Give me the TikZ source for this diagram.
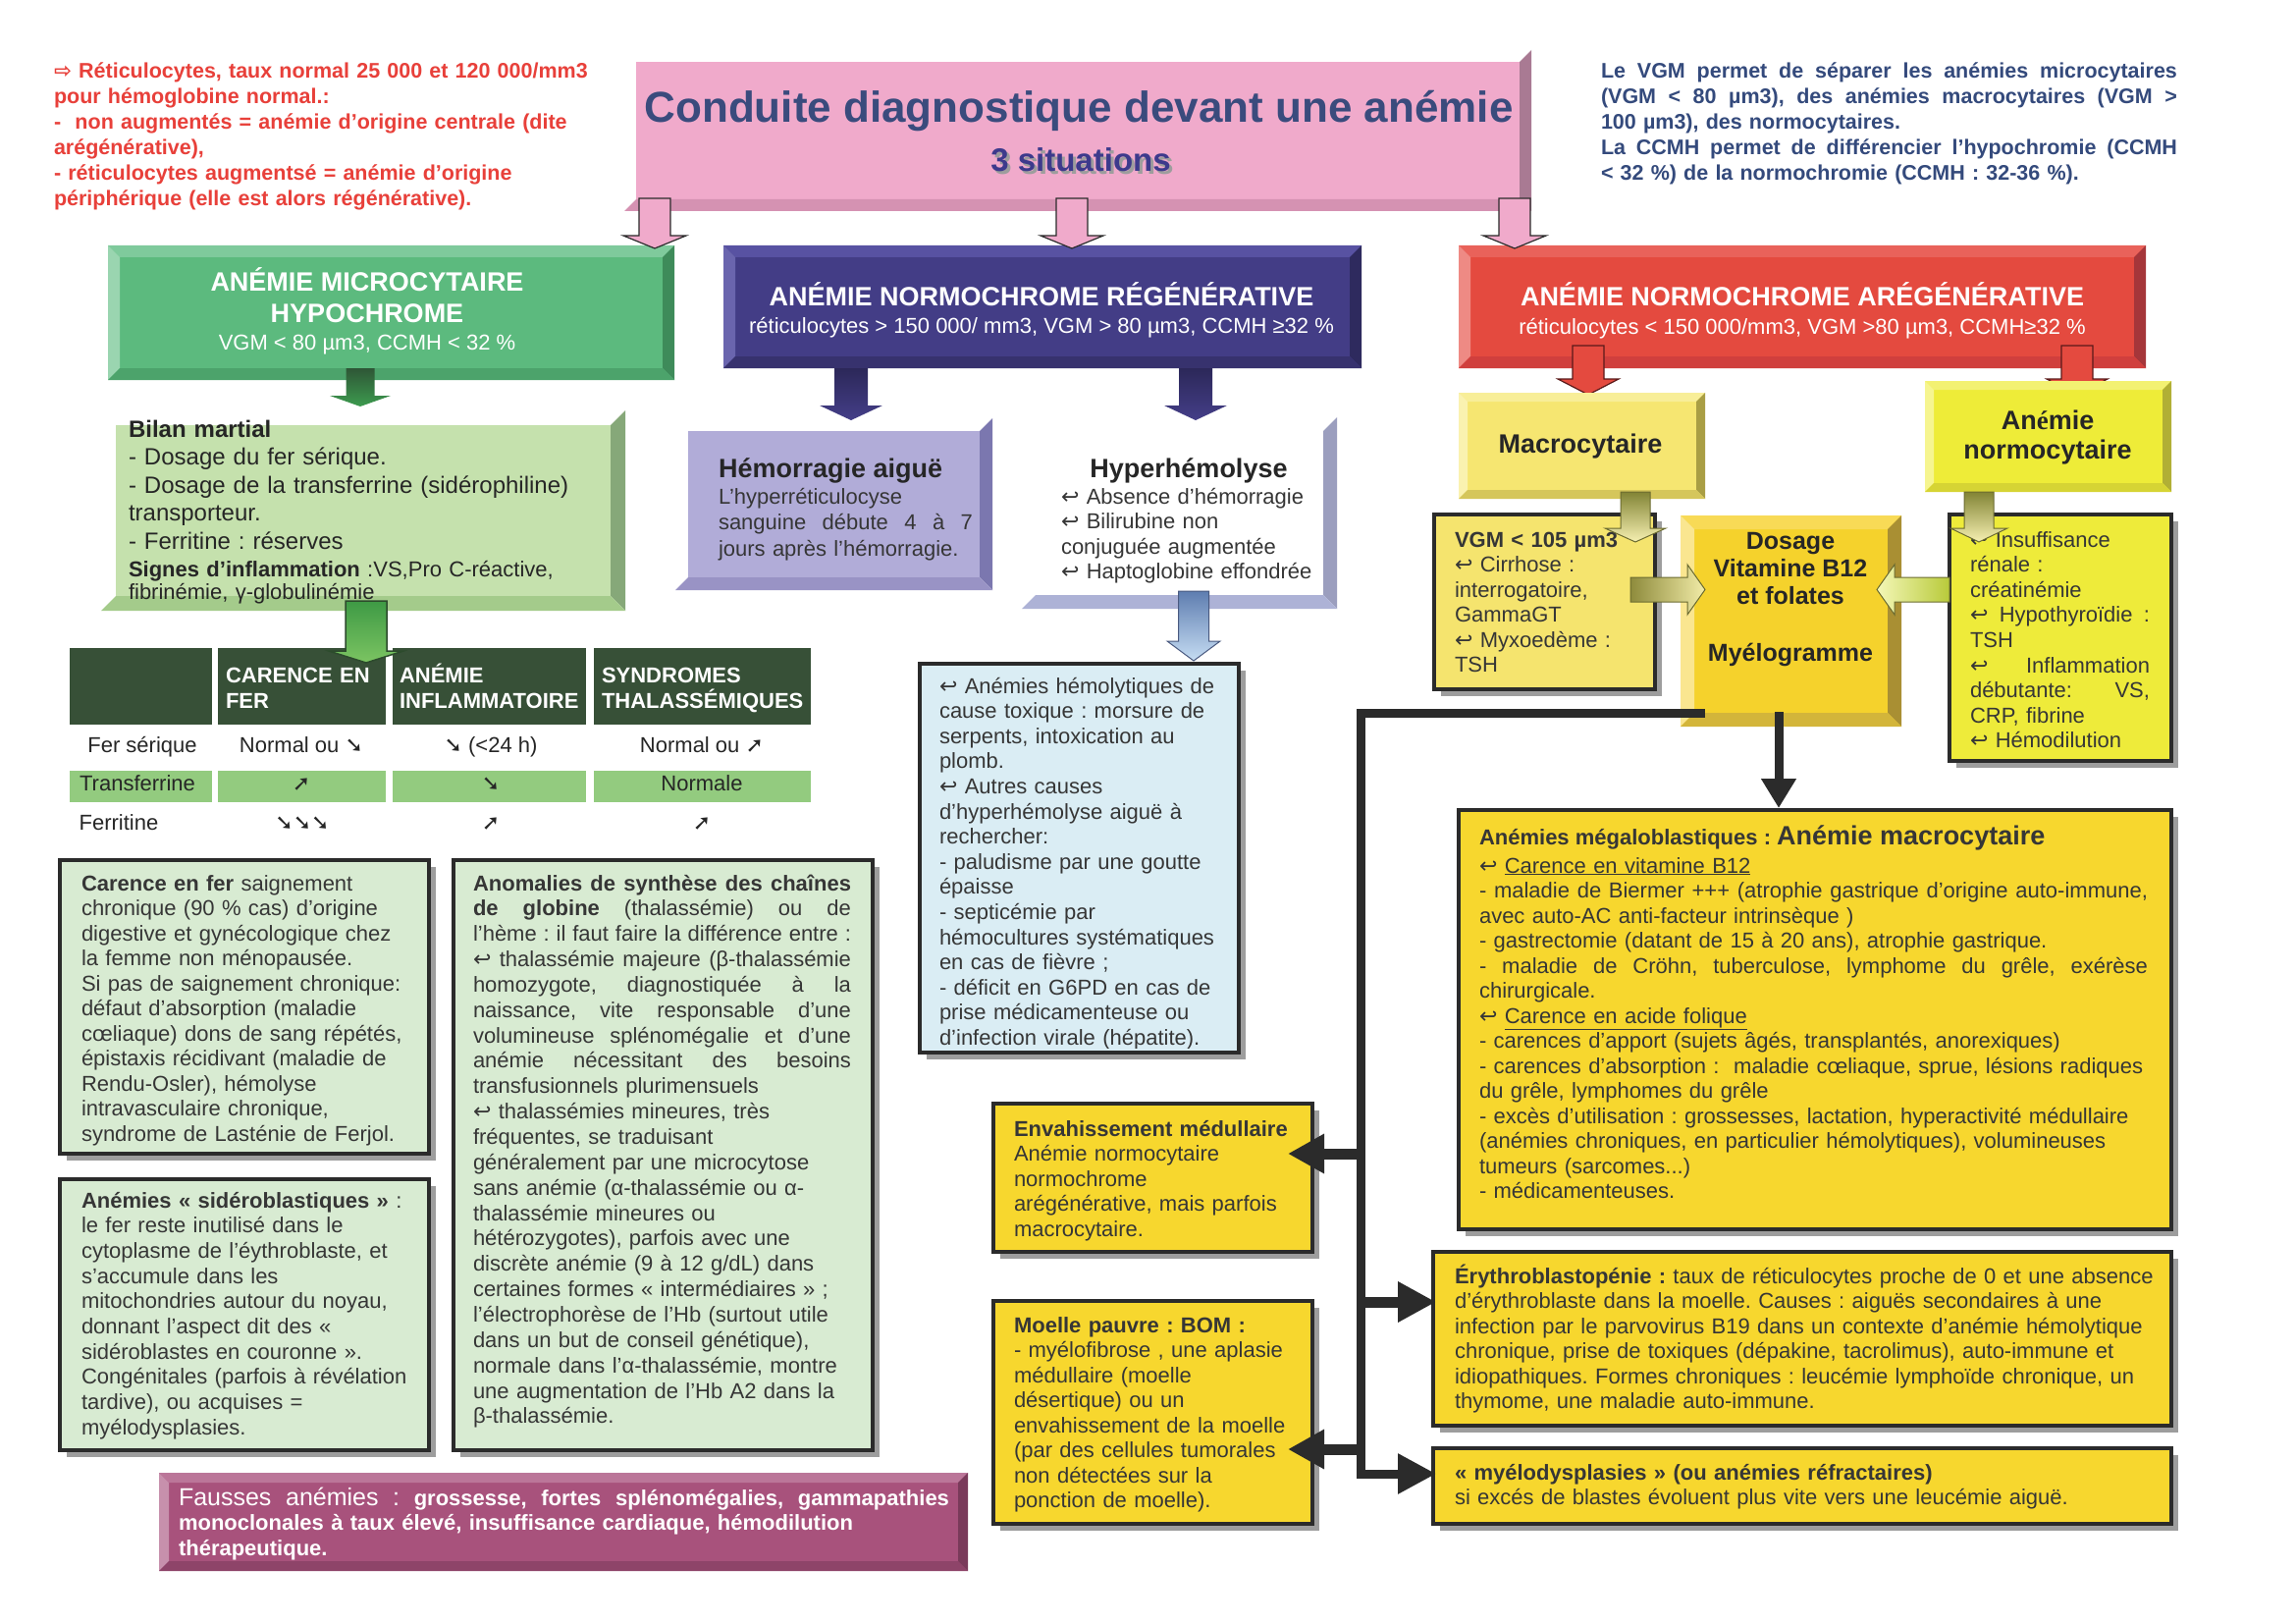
\documentclass[tikz,border=0pt]{standalone}
\usepackage{fontspec}
\setmainfont{Liberation Sans}
\newfontfamily\symf{DejaVu Sans}
\newfontfamily\serf{Liberation Serif}
\usetikzlibrary{arrows.meta}
\frenchspacing
\newcommand\fsz[2]{\fontsize{#1}{#2}\selectfont}
\newcommand\JL[1]{\leavevmode\hbox to\linewidth{\spaceskip=0.278em plus 1fil\xspaceskip=0.278em plus 1fil\relax #1}}
\newcommand\bul{{\symf ↩}}
\newcommand\dn{{\symf ➘}}
\newcommand\up{{\symf ➚}}
\definecolor{txt}{HTML}{363636}
\definecolor{txd}{HTML}{262626}
\definecolor{bord}{HTML}{2B2B2B}
\definecolor{shad}{HTML}{9D9D9D}
\definecolor{pkF}{HTML}{F0AACB}\definecolor{pkR}{HTML}{A97A93}\definecolor{pkB}{HTML}{D592B2}
\definecolor{grF}{HTML}{5CBA7E}\definecolor{grT}{HTML}{7FCA9C}\definecolor{grL}{HTML}{9AD5B0}\definecolor{grR}{HTML}{3E8B5A}\definecolor{grB}{HTML}{4CA36B}
\definecolor{nvF}{HTML}{433D86}\definecolor{nvT}{HTML}{5852A2}\definecolor{nvL}{HTML}{6A65AE}\definecolor{nvR}{HTML}{2E2A5E}\definecolor{nvB}{HTML}{37326E}
\definecolor{rdF}{HTML}{E44A3F}\definecolor{rdT}{HTML}{E9625A}\definecolor{rdL}{HTML}{EE8A84}\definecolor{rdR}{HTML}{A5363A}\definecolor{rdB}{HTML}{D03F3D}
\definecolor{biF}{HTML}{C5E1AD}\definecolor{biR}{HTML}{86A879}\definecolor{biB}{HTML}{A4CB8B}
\definecolor{hmF}{HTML}{B1ACD8}\definecolor{hmR}{HTML}{7B77AF}\definecolor{hmB}{HTML}{9993C5}
\definecolor{hyF}{HTML}{FFFFFF}\definecolor{hyR}{HTML}{9B9EBE}\definecolor{hyB}{HTML}{ADB2D6}
\definecolor{mcF}{HTML}{F6E671}\definecolor{mcT}{HTML}{F8EE98}\definecolor{mcL}{HTML}{FAF2B0}\definecolor{mcR}{HTML}{A99E44}\definecolor{mcB}{HTML}{D5C65B}
\definecolor{noF}{HTML}{EEEC38}\definecolor{noT}{HTML}{F3F172}\definecolor{noL}{HTML}{F6F590}\definecolor{noR}{HTML}{B1AF35}\definecolor{noB}{HTML}{D6D434}
\definecolor{doF}{HTML}{F5D22C}\definecolor{doT}{HTML}{F8DA56}\definecolor{doL}{HTML}{FAE690}\definecolor{doR}{HTML}{A98F33}\definecolor{doB}{HTML}{D3B53A}
\definecolor{faF}{HTML}{A8527C}\definecolor{faT}{HTML}{BB7699}\definecolor{faL}{HTML}{C790AC}\definecolor{faR}{HTML}{7A3A5A}\definecolor{faB}{HTML}{8E4469}
\definecolor{thdr}{HTML}{375037}\definecolor{tgreen}{HTML}{93CB7F}
\definecolor{lgreen}{HTML}{D8EBD2}\definecolor{lblue}{HTML}{DAEDF4}
\definecolor{gold}{HTML}{F7D72E}\definecolor{vgmY}{HTML}{F5E46E}\definecolor{lemon}{HTML}{EEEB3A}
\definecolor{rednote}{HTML}{E8403A}\definecolor{bluenote}{HTML}{344A7C}
\definecolor{titleblue}{HTML}{3A4B7D}\definecolor{sitblue}{HTML}{3D3A8C}
\definecolor{gA1}{HTML}{2E5636}\definecolor{gA2}{HTML}{3D9B4F}
\definecolor{gB1}{HTML}{3E9A45}\definecolor{gB2}{HTML}{7CC462}\definecolor{gBd}{HTML}{2C4B2C}
\definecolor{nA1}{HTML}{2C2859}\definecolor{nA2}{HTML}{443E88}
\definecolor{rAd}{HTML}{5A1A1A}
\definecolor{ol1}{HTML}{828435}\definecolor{ol2}{HTML}{F6F0B2}\definecolor{old}{HTML}{6B6B30}
\definecolor{olH}{HTML}{8E8B3C}\definecolor{olP}{HTML}{F2ECA8}
\definecolor{yl1}{HTML}{F4F7B8}\definecolor{yl2}{HTML}{B8CA3A}
\definecolor{bl1}{HTML}{5E7DB0}\definecolor{bl2}{HTML}{C6DDF3}\definecolor{bld}{HTML}{4A5A80}
% full bevel box: x1 y1 x2 y2 d colourprefix
\newcommand\bevelbox[6]{%
 \fill[#6F] (#1,#2) rectangle (#3,#4);
 \fill[#6T] (#1,#2) -- (#3,#2) -- ({#3-#5},{#2+#5}) -- ({#1+#5},{#2+#5}) -- cycle;
 \fill[#6L] (#1,#2) -- ({#1+#5},{#2+#5}) -- ({#1+#5},{#4-#5}) -- (#1,#4) -- cycle;
 \fill[#6R] (#3,#2) -- ({#3-#5},{#2+#5}) -- ({#3-#5},{#4-#5}) -- (#3,#4) -- cycle;
 \fill[#6B] (#1,#4) -- ({#1+#5},{#4-#5}) -- ({#3-#5},{#4-#5}) -- (#3,#4) -- cycle;}
% extruded box: face + right band + bottom band
\newcommand\cubebox[6]{%
 \fill[#6F] (#1,#2) rectangle (#3,#4);
 \fill[#6R] (#3,#2) -- ({#3+#5},{#2-#5}) -- ({#3+#5},{#4+#5}) -- (#3,#4) -- cycle;
 \fill[#6B] (#1,#4) -- (#3,#4) -- ({#3+#5},{#4+#5}) -- ({#1-#5},{#4+#5}) -- cycle;}
\newcommand\area[5]{\node[area,minimum width={#4-#2},minimum height={#5-#3}] (#1) at (#2,#3) {};}
\newcommand\framebx[6]{\node[boxframe,fill=#6,minimum width={#4-#2},minimum height={#5-#3}] (#1) at (#2,#3) {};}
% block arrows: down (cx ytop ytip shafthalf headhalf headlen style)
\newcommand\dblock[7]{\path[#7] ({#1-#4},#2) -- ({#1+#4},#2) -- ({#1+#4},{#3-#6}) -- ({#1+#5},{#3-#6}) -- (#1,#3) -- ({#1-#5},{#3-#6}) -- ({#1-#4},{#3-#6}) -- cycle;}
% right (cy xstart xtip shafthalf headhalf headlen style)
\newcommand\rblock[7]{\path[#7] (#2,{#1-#4}) -- ({#3-#6},{#1-#4}) -- ({#3-#6},{#1-#5}) -- (#3,#1) -- ({#3-#6},{#1+#5}) -- ({#3-#6},{#1+#4}) -- (#2,{#1+#4}) -- cycle;}
\newcommand\lblock[7]{\path[#7] (#2,{#1-#4}) -- ({#3+#6},{#1-#4}) -- ({#3+#6},{#1-#5}) -- (#3,#1) -- ({#3+#6},{#1+#5}) -- ({#3+#6},{#1+#4}) -- (#2,{#1+#4}) -- cycle;}
\begin{document}
\begin{tikzpicture}[x=1pt,y=-1pt,
  tx/.style={anchor=base west,inner sep=0pt,outer sep=0pt,align=left,text=txt,font=\fsz{22}{25.5}},
  tl/.style={anchor=base west,inner sep=0pt,outer sep=0pt,text=txt,font=\fsz{22}{25.5}},
  ctx/.style={anchor=base,inner sep=0pt,outer sep=0pt},
  area/.style={inner sep=0pt,outer sep=0pt,anchor=north west},
  boxframe/.style={area,draw=bord,line width=3.5pt,preaction={fill=shad,transform canvas={xshift=7pt,yshift=-7pt}}},
  cell/.style={area,minimum height=78},
  gcell/.style={area,fill=tgreen,minimum height=32},
  pinkarr/.style={fill=pkF,draw=bord,line width=1.2pt},
  greenarrA/.style={top color=gA1,bottom color=gA2},
  greenarrB/.style={top color=gB1,bottom color=gB2,draw=gBd,line width=1.5pt},
  navyarr/.style={top color=nA1,bottom color=nA2},
  redarr/.style={fill=rdF,draw=rAd,line width=1.2pt},
  olivearr/.style={top color=ol1,bottom color=ol2,draw=old,line width=1pt},
  olivearrH/.style={left color=olH,right color=olP,draw=old,line width=1pt},
  yelarrH/.style={left color=yl1,right color=yl2,draw=old,line width=1pt},
  bluearr/.style={top color=bl1,bottom color=bl2,draw=bld,line width=1pt},
  blk/.style={draw=bord,line width=9pt,line join=miter},
  tcell/.style={ctx,text=txd,font=\fsz{22}{26}}]
\useasboundingbox[fill=white] (0,0) rectangle (2339,1653);

% ---------- notes ----------
\node[tx,text width=620,text=rednote,font=\bfseries\fsz{21.5}{26}] (rednoteT) at (55,80)
 {{\symf ⇨} Réticulocytes, taux normal 25 000 et 120 000/mm3\\
  pour hémoglobine normal.:\\
  -~~non augmentés = anémie d’origine centrale (dite\\
  arégénérative),\\
  - réticulocytes augmentsé = anémie d’origine\\
  périphérique (elle est alors régénérative).};
\node[tx,text width=587,text=bluenote,font=\bfseries\fsz{21.5}{26}] (bluenoteT) at (1631,80)
 {\JL{Le VGM permet de séparer les anémies microcytaires}\\
  \JL{(VGM < 80 µm3), des anémies macrocytaires (VGM >}\\
  100 µm3), des normocytaires.\\
  \JL{La CCMH permet de différencier l’hypochromie (CCMH}\\
  < 32 \%) de la normochromie (CCMH : 32-36 \%).};

% ---------- title ----------
\cubebox{648}{63}{1548}{203}{12}{pk}
\area{title}{648}{63}{1548}{203}
\node[ctx,text=titleblue,font=\bfseries\fsz{44}{50}] (titleT) at (1099,125) {Conduite diagnostique devant une anémie};
\node[ctx,text=shad,font=\bfseries\fsz{33}{36}] (sitS) at (1104,178) {3 situations};
\node[ctx,text=sitblue,font=\bfseries\fsz{33}{36}] (sitT) at (1101,175) {3 situations};

% ---------- three situations ----------
\bevelbox{110}{250}{687}{387}{12}{gr}
\area{green}{110}{250}{687}{387}
\node[ctx,text=white,font=\bfseries\fsz{27}{30}] (grT1) at (374,296) {ANÉMIE MICROCYTAIRE};
\node[ctx,text=white,font=\bfseries\fsz{27}{30}] (grT2) at (374,328) {HYPOCHROME};
\node[ctx,text=white,font=\fsz{22}{26}] (grT3) at (374,356) {VGM < 80 µm3, CCMH < 32 \%};

\bevelbox{737}{250}{1387}{375}{12}{nv}
\area{navy}{737}{250}{1387}{375}
\node[ctx,text=white,font=\bfseries\fsz{27}{30}] (nvT1) at (1061,311) {ANÉMIE NORMOCHROME RÉGÉNÉRATIVE};
\node[ctx,text=white,font=\fsz{22}{26}] (nvT2) at (1061,339) {réticulocytes > 150 000/ mm3, VGM > 80 µm3, CCMH ≥32 \%};

\bevelbox{1486}{250}{2186}{375}{12}{rd}
\area{red}{1486}{250}{2186}{375}
\node[ctx,text=white,font=\bfseries\fsz{27}{30}] (rdT1) at (1836,311) {ANÉMIE NORMOCHROME ARÉGÉNÉRATIVE};
\node[ctx,text=white,font=\fsz{22}{26}] (rdT2) at (1836,340) {réticulocytes < 150 000/mm3, VGM >80 µm3, CCMH≥32 \%};

\dblock{667}{202}{253}{16}{32}{13}{pinkarr}
\dblock{1092}{202}{253}{16}{32}{13}{pinkarr}
\dblock{1543}{202}{253}{16}{32}{13}{pinkarr}

% ---------- microcytaire branch ----------
\dblock{367}{375}{414}{14.5}{31}{11}{greenarrA}
\cubebox{118}{433}{622}{607}{15}{bi}
\area{bilan}{118}{433}{622}{607}
\node[tx,text width=490,text=txd,font=\fsz{24}{28.5}] (biT) at (131,445)
 {\textbf{Bilan martial}\\
  - Dosage du fer sérique.\\
  - Dosage de la transferrine (sidérophiline)\\
  transporteur.\\
  - Ferritine : réserves};
\node[tx,text width=490,text=txd,font=\fsz{22}{23}] (biT2) at (131,587)
 {\textbf{Signes d’inflammation} :VS,Pro C-réactive,\\
  fibrinémie, γ-globulinémie};

% table
\node[cell,fill=thdr,minimum width=145] (h0) at (71,660) {};
\node[cell,fill=thdr,minimum width=171] (h1) at (222,660) {};
\node[cell,fill=thdr,minimum width=197] (h2) at (400,660) {};
\node[cell,fill=thdr,minimum width=221] (h3) at (605,660) {};
\node[gcell,minimum width=145] (g0) at (71,785) {};
\node[gcell,minimum width=171] (g1) at (222,785) {};
\node[gcell,minimum width=197] (g2) at (400,785) {};
\node[gcell,minimum width=221] (g3) at (605,785) {};
\node[tx,text width=165,text=white,font=\bfseries\fsz{22}{26}] (h1T) at (230,695) {CARENCE EN\\FER};
\node[tx,text width=192,text=white,font=\bfseries\fsz{22}{26}] (h2T) at (407,695) {ANÉMIE\\INFLAMMATOIRE};
\node[tx,text width=215,text=white,font=\bfseries\fsz{22}{26}] (h3T) at (613,695) {SYNDROMES\\THALASSÉMIQUES};
\node[tcell] (r1a) at (145,766) {Fer sérique};
\node[tcell] (r1b) at (307,766) {Normal ou \dn};
\node[tcell] (r1c) at (500,766) {\dn\ (<24 h)};
\node[tcell] (r1d) at (715,766) {Normal ou \up};
\node[tcell] (r2a) at (140,805) {Transferrine};
\node[tcell] (r2b) at (307,805) {\up};
\node[tcell] (r2c) at (500,805) {\dn};
\node[tcell] (r2d) at (715,805) {Normale};
\node[tcell] (r3a) at (121,845) {Ferritine};
\node[tcell] (r3b) at (308,845) {\dn\dn\dn};
\node[tcell] (r3c) at (500,845) {\up};
\node[tcell] (r3d) at (715,845) {\up};
\dblock{373}{612}{675}{21}{38}{12}{greenarrB}

% lower left boxes
\framebx{carence}{61}{876}{437}{1175}{lgreen}
\begin{scope}
\clip (50,870) rectangle (450,1168);
\node[tx,text width=350] (carT) at (83,907)
 {\textbf{Carence en fer} saignement\\
  chronique (90 \% cas) d’origine\\
  digestive et gynécologique chez\\
  la femme non ménopausée.\\
  Si pas de saignement chronique:\\
  défaut d’absorption (maladie\\
  cœliaque) dons de sang répétés,\\
  épistaxis récidivant (maladie de\\
  Rendu-Osler), hémolyse\\
  intravasculaire chronique,\\
  syndrome de Lasténie de Ferjol.};
\end{scope}
\framebx{sidero}{61}{1201}{437}{1477}{lgreen}
\node[tx,text width=350,font=\fsz{22}{25.7}] (sidT) at (83,1230)
 {\textbf{Anémies « sidéroblastiques »} :\\
  le fer reste inutilisé dans le\\
  cytoplasme de l’éythroblaste, et\\
  s’accumule dans les\\
  mitochondries autour du noyau,\\
  donnant l’aspect dit des «\\
  sidéroblastes en couronne ».\\
  Congénitales (parfois à révélation\\
  tardive), ou acquises =\\
  myélodysplasies.};
\framebx{anomal}{462}{876}{889}{1477}{lgreen}
\node[tx,text width=385,font=\fsz{22}{25.85}] (anoT) at (482,907)
 {\JL{\textbf{Anomalies de synthèse des chaînes}}\\
  \JL{\textbf{de globine} (thalassémie) ou de}\\
  \JL{l’hème : il faut faire la différence entre :}\\
  \JL{\bul\ thalassémie majeure (β-thalassémie}\\
  \JL{homozygote, diagnostiquée à la}\\
  \JL{naissance, vite responsable d’une}\\
  \JL{volumineuse splénomégalie et d’une}\\
  \JL{anémie nécessitant des besoins}\\
  transfusionnels plurimensuels\\
  \bul\ thalassémies mineures, très\\
  fréquentes, se traduisant\\
  généralement par une microcytose\\
  sans anémie (α-thalassémie ou α-\\
  thalassémie mineures ou\\
  hétérozygotes), parfois avec une\\
  discrète anémie (9 à 12 g/dL) dans\\
  certaines formes « intermédiaires » ;\\
  l’électrophorèse de l’Hb (surtout utile\\
  dans un but de conseil génétique),\\
  normale dans l’α-thalassémie, montre\\
  une augmentation de l’Hb A2 dans la\\
  β-thalassémie.};

\bevelbox{162}{1500}{986}{1600}{10}{fa}
\area{fausses}{162}{1500}{986}{1600}
\node[tx,text width=785,text=white,font=\bfseries\fsz{22}{25.5}] (fauT) at (182,1533)
 {\JL{{\mdseries\fsz{25}{25.5}Fausses anémies :} grossesse, fortes splénomégalies, gammapathies}\\
  monoclonales à taux élevé, insuffisance cardiaque, hémodilution\\
  thérapeutique.};

% ---------- régénérative branch ----------
\dblock{867}{375}{428}{17}{32}{15}{navyarr}
\dblock{1218}{375}{428}{17}{32}{15}{navyarr}
\cubebox{701}{439}{998}{588}{13}{hm}
\area{hemo}{701}{439}{998}{588}
\node[tl,text=txd,font=\bfseries\fsz{27}{30}] (hmT) at (732,486) {Hémorragie aiguë};
\node[tx,text width=259,font=\fsz{22}{26.5}] (hmB) at (732,513)
 {L’hyperréticulocyse\\
  \JL{sanguine débute 4 à 7}\\
  jours après l’hémorragie.};
\cubebox{1055}{439}{1348}{606}{14}{hy}
\area{hyper}{1055}{439}{1348}{606}
\node[ctx,text=txd,font=\bfseries\fsz{27}{30}] (hyT) at (1211,486) {Hyperhémolyse};
\begin{scope}
\clip (1040,420) rectangle (1360,593);
\node[tx,text width=280] (hyL) at (1081,513)
 {\bul\ Absence d’hémorragie\\
  \bul\ Bilirubine non\\
  conjuguée augmentée\\
  \bul\ Haptoglobine effondrée};
\end{scope}
\framebx{hyplist}{937}{676}{1262}{1072}{lblue}
\dblock{1216}{602}{673}{15.5}{27}{20}{bluearr}
\begin{scope}
\clip (940,680) rectangle (1258,1067);
\node[tx,text width=300,font=\fsz{22}{25.6}] (hlT) at (957,706)
 {\bul\ Anémies hémolytiques de\\
  cause toxique : morsure de\\
  serpents, intoxication au\\
  plomb.\\
  \bul\ Autres causes\\
  d’hyperhémolyse aiguë à\\
  rechercher:\\
  - paludisme par une goutte\\
  épaisse\\
  - septicémie par\\
  hémocultures systématiques\\
  en cas de fièvre ;\\
  - déficit en G6PD en cas de\\
  prise médicamenteuse ou\\
  d’infection virale (hépatite).};
\end{scope}

% ---------- arégénérative branch ----------
\dblock{1618}{352}{402}{16}{31}{16}{redarr}
\dblock{2116}{352}{402}{16}{31}{16}{redarr}
\bevelbox{1486}{400}{1737}{508}{9}{mc}
\area{macro}{1486}{400}{1737}{508}
\node[ctx,text=txd,font=\bfseries\fsz{27}{30}] (mcT) at (1610,461) {Macrocytaire};
\bevelbox{1961}{388}{2212}{501}{9}{no}
\area{normo}{1961}{388}{2212}{501}
\node[ctx,text=txd,font=\bfseries\fsz{27}{30}] (noT1) at (2086,437) {An{\serf é}mie};
\node[ctx,text=txd,font=\bfseries\fsz{27}{30}] (noT2) at (2086,467) {normocytaire};

\framebx{vgm}{1461}{524}{1686}{702}{vgmY}
\node[tx,text width=205] (vgmT) at (1482,557)
 {\textbf{VGM < 105 µm3}\\
  \bul\ Cirrhose :\\
  interrogatoire,\\
  GammaGT\\
  \bul\ Myxoedème :\\
  TSH};
\framebx{nlist}{1986}{524}{2212}{775}{lemon}
\node[tx,text width=183,font=\fsz{22}{25.6}] (nlT) at (2007,557)
 {\bul\ Insuffisance\\
  rénale :\\
  créatinémie\\
  \JL{\bul\ Hypothyroïdie :}\\
  TSH\\
  \JL{\bul\ Inflammation}\\
  \JL{débutante: VS,}\\
  CRP, fibrine\\
  \bul\ Hémodilution};
\bevelbox{1712}{525}{1937}{740}{14}{do}
\area{dosage}{1712}{525}{1937}{740}
\node[ctx,text=txd,font=\bfseries\fsz{25}{28}] (doT1) at (1824,559) {Dosage};
\node[ctx,text=txd,font=\bfseries\fsz{25}{28}] (doT2) at (1824,587) {Vitamine B12};
\node[ctx,text=txd,font=\bfseries\fsz{25}{28}] (doT3) at (1824,615) {et folates};
\node[ctx,text=txd,font=\bfseries\fsz{25}{28}] (doT4) at (1824,673) {Myélogramme};
\dblock{1666}{501}{552}{15}{31}{14}{olivearr}
\dblock{2016}{501}{552}{15}{29}{14}{olivearr}
\rblock{600.5}{1661}{1737}{12.5}{25.5}{18}{olivearrH}
\lblock{600.5}{1986}{1912}{12.5}{25.5}{18}{yelarrH}

% bottom right boxes
\framebx{mega}{1486}{825}{2212}{1252}{gold}
\node[tl,font=\fsz{22}{25.5}] (meT1) at (1507,860) {\textbf{Anémies mégaloblastiques :} {\bfseries\fsz{27}{30}Anémie macrocytaire}};
\node[tx,text width=681] (meT2) at (1507,889)
 {\bul\ \underline{Carence en vitamine B12}\\
  \JL{- maladie de Biermer +++ (atrophie gastrique d’origine auto-immune,}\\
  avec auto-AC anti-facteur intrinsèque )\\
  - gastrectomie (datant de 15 à 20 ans), atrophie gastrique.\\
  \JL{- maladie de Cröhn, tuberculose, lymphome du grêle, exérèse}\\
  chirurgicale.\\
  \bul\ \underline{Carence en acide folique}\\
  - carences d’apport (sujets âgés, transplantés, anorexiques)\\
  - carences d’absorption :~~maladie cœliaque, sprue, lésions radiques\\
  du grêle, lymphomes du grêle\\
  - excès d’utilisation : grossesses, lactation, hyperactivité médullaire\\
  (anémies chroniques, en particulier hémolytiques), volumineuses\\
  tumeurs (sarcomes...)\\
  - médicamenteuses.};
\framebx{envah}{1012}{1124}{1337}{1275}{gold}
\node[tx,text width=300] (enT) at (1033,1157)
 {\textbf{Envahissement médullaire}\\
  Anémie normocytaire\\
  normochrome\\
  arégénérative, mais parfois\\
  macrocytaire.};
\framebx{moelle}{1012}{1325}{1337}{1552}{gold}
\node[tx,text width=300] (moT) at (1033,1357)
 {\textbf{Moelle pauvre : BOM :}\\
  - myélofibrose , une aplasie\\
  médullaire (moelle\\
  désertique) ou un\\
  envahissement de la moelle\\
  (par des cellules tumorales\\
  non détectées sur la\\
  ponction de moelle).};
\framebx{ery}{1460}{1275}{2212}{1452}{gold}
\node[tx,text width=720] (erT) at (1482,1307)
 {\textbf{Érythroblastopénie :} taux de réticulocytes proche de 0 et une absence\\
  d’érythroblaste dans la moelle. Causes : aiguës secondaires à une\\
  infection par le parvovirus B19 dans un contexte d’anémie hémolytique\\
  chronique, prise de toxiques (dépakine, tacrolimus), auto-immune et\\
  idiopathiques. Formes chroniques : leucémie lymphoïde chronique, un\\
  thymome, une maladie auto-immune.};
\framebx{myelo}{1460}{1475}{2212}{1552}{gold}
\node[tx,text width=720] (myT) at (1482,1507)
 {\textbf{« myélodysplasies » (ou anémies réfractaires)}\\
  si excés de blastes évoluent plus vite vers une leucémie aiguë.};

% black connectors
\coordinate (jA) at (1737,726);
\coordinate (jB) at (1386,726);
\coordinate (jM) at (1386,1501);
\coordinate (myIn) at (1463,1501);
\draw[blk,-{Triangle[length=39pt,width=39pt]}] (jA) -- (jB) -- (jM) -- (myIn);
\coordinate (jE) at (1386,1175);
\coordinate (enIn) at (1312,1175);
\draw[blk,line width=11pt,-{Triangle[length=37pt,width=38pt]}] (jE) -- (enIn);
\coordinate (jR) at (1386,1326);
\coordinate (erIn) at (1463,1326);
\draw[blk,line width=11pt,-{Triangle[length=39pt,width=39pt]}] (jR) -- (erIn);
\coordinate (jO) at (1386,1476);
\coordinate (moIn) at (1312,1476);
\draw[blk,line width=11pt,-{Triangle[length=37pt,width=38pt]}] (jO) -- (moIn);
\coordinate (dB) at (1812,725);
\coordinate (meIn) at (1812,823);
\draw[blk,-{Triangle[length=30pt,width=34pt]}] (dB) -- (meIn);
\end{tikzpicture}
\end{document}
